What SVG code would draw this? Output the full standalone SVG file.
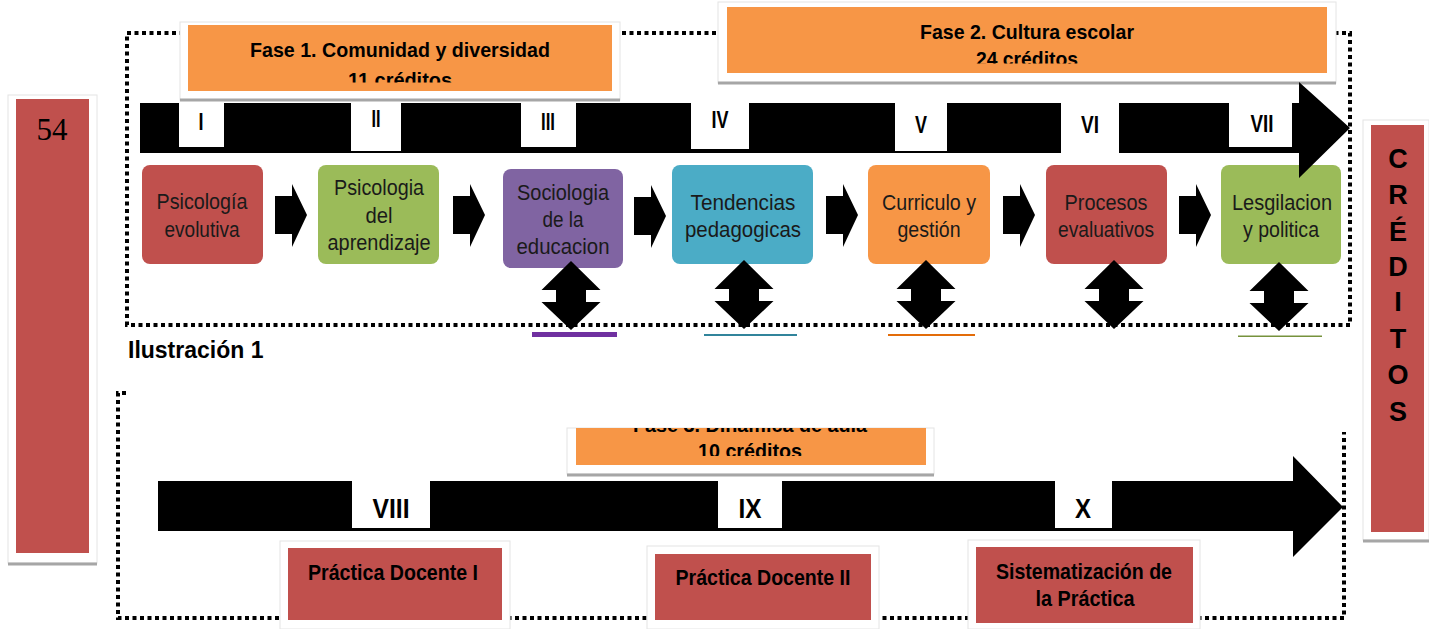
<svg xmlns="http://www.w3.org/2000/svg" width="1429" height="629" viewBox="0 0 1429 629">
<style>
  text { font-family: "Liberation Sans", Arial, sans-serif; }
  .dot { fill: none; stroke: #000; stroke-width: 4; stroke-dasharray: 4 3.5; }
  .frame { fill: #fff; stroke: #e4e4e4; stroke-width: 1; }
  .shadow { stroke: #a6a6a6; stroke-width: 3; }
  .orange { fill: #F79646; }
  .red { fill: #C0504D; }
  .green { fill: #9BBB59; }
  .purple { fill: #8064A2; }
  .teal { fill: #4BACC6; }
  .nt { font-size: 22px; fill: #1a1a1a; text-anchor: middle; }
  .ft { font-size: 21px; font-weight: bold; fill: #000; text-anchor: middle; }
  .rn { font-size: 23px; font-weight: bold; fill: #000; text-anchor: middle; }
  .rn2 { font-size: 27px; font-weight: bold; fill: #000; text-anchor: middle; }
  .pt { font-size: 22px; font-weight: bold; fill: #000; text-anchor: middle; }
  .ct { font-size: 27px; font-weight: bold; fill: #000; text-anchor: middle; }
  .blk { fill: #000; }
  .lbl { fill: #fff; }
</style>
<defs>
  <path id="sarrow" d="M0 12 H17 V0 L32 31 L17 63 V50 H0 Z"/>
  <path id="darrow" d="M0 0 L29.5 29 H15 V41 H29.5 L0 69 L-29.5 41 H-15 V29 H-29.5 Z"/>
  <clipPath id="c1"><rect x="188" y="25" width="424" height="57.5"/></clipPath>
  <clipPath id="c2"><rect x="727" y="7" width="600" height="56.5"/></clipPath>
  <clipPath id="c3"><rect x="576" y="428" width="350" height="28"/></clipPath>
</defs>

<g id="frames-dotted">
  <path class="dot" d="M127 33 H1350 V325 H127 Z"/>
  <path class="dot" d="M126 393 H118 V618 H1344 V432"/>
</g>

<g id="credit-total">
  <rect class="frame" x="8" y="95" width="89" height="468"/>
  <line class="shadow" x1="8" y1="564" x2="97" y2="564"/>
  <rect class="red" x="16" y="99" width="73" height="454"/>
  <text x="52" y="140" style="font-family:'Liberation Serif','Times New Roman',serif;font-size:31px;fill:#000" text-anchor="middle">54</text>
</g>

<g id="creditos">
  <rect class="frame" x="1363" y="120" width="66" height="420"/>
  <line class="shadow" x1="1363" y1="541" x2="1429" y2="541"/>
  <rect class="red" x="1371" y="125" width="53" height="407"/>
  <text class="ct" x="1398" y="168">C</text>
  <text class="ct" x="1398" y="204">R</text>
  <text class="ct" x="1398" y="241">É</text>
  <text class="ct" x="1398" y="276">D</text>
  <text class="ct" x="1398" y="311">I</text>
  <text class="ct" x="1398" y="348">T</text>
  <text class="ct" x="1398" y="384">O</text>
  <text class="ct" x="1398" y="421">S</text>
</g>

<g id="fase1">
  <rect class="frame" x="180" y="22" width="440" height="78"/>
  <line class="shadow" x1="180" y1="100" x2="620" y2="100"/>
  <rect class="orange" x="188" y="25" width="424" height="66"/>
  <g clip-path="url(#c1)">
    <text class="ft" x="400" y="57" textLength="300" lengthAdjust="spacingAndGlyphs">Fase 1. Comunidad y diversidad</text>
    <text class="ft" x="400" y="87" textLength="104" lengthAdjust="spacingAndGlyphs">11 créditos</text>
  </g>
</g>

<g id="fase2">
  <rect class="frame" x="718" y="2" width="618" height="81"/>
  <line class="shadow" x1="718" y1="83" x2="1336" y2="83"/>
  <rect class="orange" x="727" y="7" width="600" height="66"/>
  <g clip-path="url(#c2)">
    <text class="ft" x="1027" y="39" textLength="214" lengthAdjust="spacingAndGlyphs">Fase 2. Cultura escolar</text>
    <text class="ft" x="1027" y="66" textLength="102" lengthAdjust="spacingAndGlyphs">24 créditos</text>
  </g>
</g>

<g id="node-psicologia-evolutiva">
  <rect class="red" x="142" y="165" width="121" height="99" rx="8"/>
  <text class="nt" x="202" y="209" textLength="91" lengthAdjust="spacingAndGlyphs">Psicología</text>
  <text class="nt" x="202" y="237" textLength="75" lengthAdjust="spacingAndGlyphs">evolutiva</text>
</g>
<g id="node-psicologia-aprendizaje">
  <rect class="green" x="318" y="165" width="121" height="99" rx="8"/>
  <text class="nt" x="379" y="195" textLength="90" lengthAdjust="spacingAndGlyphs">Psicologia</text>
  <text class="nt" x="379" y="223" textLength="27" lengthAdjust="spacingAndGlyphs">del</text>
  <text class="nt" x="379" y="250" textLength="103" lengthAdjust="spacingAndGlyphs">aprendizaje</text>
</g>
<g id="node-sociologia">
  <rect class="purple" x="503" y="169" width="120" height="99" rx="8"/>
  <text class="nt" x="563" y="200" textLength="92" lengthAdjust="spacingAndGlyphs">Sociologia</text>
  <text class="nt" x="563" y="227" textLength="41" lengthAdjust="spacingAndGlyphs">de la</text>
  <text class="nt" x="563" y="254" textLength="93" lengthAdjust="spacingAndGlyphs">educacion</text>
</g>
<g id="node-tendencias">
  <rect class="teal" x="672" y="165" width="141" height="99" rx="8"/>
  <text class="nt" x="743" y="210" textLength="105" lengthAdjust="spacingAndGlyphs">Tendencias</text>
  <text class="nt" x="743" y="237" textLength="116" lengthAdjust="spacingAndGlyphs">pedagogicas</text>
</g>
<g id="node-curriculo">
  <rect class="orange" x="868" y="165" width="122" height="99" rx="8"/>
  <text class="nt" x="929" y="210" textLength="94" lengthAdjust="spacingAndGlyphs">Curriculo y</text>
  <text class="nt" x="929" y="237" textLength="63" lengthAdjust="spacingAndGlyphs">gestión</text>
</g>
<g id="node-procesos">
  <rect class="red" x="1046" y="165" width="121" height="99" rx="8"/>
  <text class="nt" x="1106" y="210" textLength="83" lengthAdjust="spacingAndGlyphs">Procesos</text>
  <text class="nt" x="1106" y="237" textLength="96" lengthAdjust="spacingAndGlyphs">evaluativos</text>
</g>
<g id="node-legislacion">
  <rect class="green" x="1221" y="165" width="120" height="99" rx="8"/>
  <text class="nt" x="1282" y="210" textLength="100" lengthAdjust="spacingAndGlyphs">Lesgilacion</text>
  <text class="nt" x="1281" y="237" textLength="76" lengthAdjust="spacingAndGlyphs">y politica</text>
</g>

<g id="timeline-upper">
  <path class="blk" d="M140 103 H1299 V82 L1350 128 L1299 178 V153 H140 Z"/>
  <rect class="lbl" x="179" y="103" width="45" height="44"/>
  <rect class="lbl" x="351" y="103" width="50" height="48"/>
  <rect class="lbl" x="521" y="103" width="55" height="44"/>
  <rect class="lbl" x="691" y="103" width="58" height="46"/>
  <rect class="lbl" x="895" y="103" width="52" height="48"/>
  <rect class="lbl" x="1061" y="103" width="58" height="50"/>
  <rect class="lbl" x="1229" y="103" width="63" height="44"/>
  <text class="rn" x="201" y="130" textLength="5" lengthAdjust="spacingAndGlyphs">I</text>
  <text class="rn" x="376" y="127" textLength="9" lengthAdjust="spacingAndGlyphs">II</text>
  <text class="rn" x="548" y="130" textLength="14" lengthAdjust="spacingAndGlyphs">III</text>
  <text class="rn" x="720" y="128" textLength="17" lengthAdjust="spacingAndGlyphs">IV</text>
  <text class="rn" x="921" y="133" textLength="12" lengthAdjust="spacingAndGlyphs">V</text>
  <text class="rn" x="1090" y="133" textLength="18" lengthAdjust="spacingAndGlyphs">VI</text>
  <text class="rn" x="1262" y="132" textLength="23" lengthAdjust="spacingAndGlyphs">VII</text>
</g>

<g id="connectors">
  <use href="#sarrow" transform="translate(275 184)"/>
  <use href="#sarrow" transform="translate(453 184)"/>
  <use href="#sarrow" transform="translate(634 185)"/>
  <use href="#sarrow" transform="translate(826 184)"/>
  <use href="#sarrow" transform="translate(1003 184)"/>
  <use href="#sarrow" transform="translate(1179 184)"/>
  <use href="#darrow" transform="translate(571 261)"/>
  <use href="#darrow" transform="translate(744 260)"/>
  <use href="#darrow" transform="translate(926 260)"/>
  <use href="#darrow" transform="translate(1114 260)"/>
  <use href="#darrow" transform="translate(1279 262)"/>
</g>

<g id="underlines">
  <rect x="532" y="332" width="85" height="5" fill="#7030A0"/>
  <rect x="704" y="334" width="93" height="2" fill="#31849B"/>
  <rect x="888" y="334" width="87" height="2" fill="#E36C09"/>
  <rect x="1238" y="335.5" width="84" height="1.5" fill="#76923C"/>
</g>

<text x="128" y="358" style="font-size:23px;font-weight:bold;fill:#000">Ilustración 1</text>

<g id="fase3">
  <rect class="frame" x="567" y="428" width="367" height="46"/>
  <line class="shadow" x1="567" y1="475" x2="934" y2="475"/>
  <rect class="orange" x="576" y="428" width="350" height="37"/>
  <g clip-path="url(#c3)">
    <text class="ft" x="750" y="432" textLength="234" lengthAdjust="spacingAndGlyphs">Fase 3. Dinámica de aula</text>
    <text class="ft" x="750" y="458" textLength="104" lengthAdjust="spacingAndGlyphs">10 créditos</text>
  </g>
</g>

<g id="timeline-lower">
  <path class="blk" d="M158 481 H1293 V456 L1343 507 L1293 557 V531 H158 Z"/>
  <rect class="lbl" x="352" y="481" width="78" height="47"/>
  <rect class="lbl" x="718" y="481" width="64" height="47"/>
  <rect class="lbl" x="1055" y="481" width="57" height="47"/>
  <text class="rn2" x="391" y="518" textLength="37" lengthAdjust="spacingAndGlyphs">VIII</text>
  <text class="rn2" x="750" y="518" textLength="23" lengthAdjust="spacingAndGlyphs">IX</text>
  <text class="rn2" x="1083" y="518" textLength="16" lengthAdjust="spacingAndGlyphs">X</text>
</g>

<g id="node-practica-1">
  <rect class="frame" x="280" y="541" width="230" height="88"/>
  <rect class="red" x="288" y="548" width="214" height="72"/>
  <text class="pt" x="393" y="580" textLength="170" lengthAdjust="spacingAndGlyphs">Práctica Docente I</text>
</g>
<g id="node-practica-2">
  <rect class="frame" x="647" y="546" width="232" height="83"/>
  <rect class="red" x="655" y="554" width="216" height="66"/>
  <text class="pt" x="763" y="585" textLength="175" lengthAdjust="spacingAndGlyphs">Práctica Docente II</text>
</g>
<g id="node-sistematizacion">
  <rect class="frame" x="968" y="540" width="232" height="89"/>
  <rect class="red" x="976" y="547" width="217" height="76"/>
  <text class="pt" x="1084" y="579" textLength="176" lengthAdjust="spacingAndGlyphs">Sistematización de</text>
  <text class="pt" x="1085" y="606" textLength="99" lengthAdjust="spacingAndGlyphs">la Práctica</text>
</g>
</svg>
